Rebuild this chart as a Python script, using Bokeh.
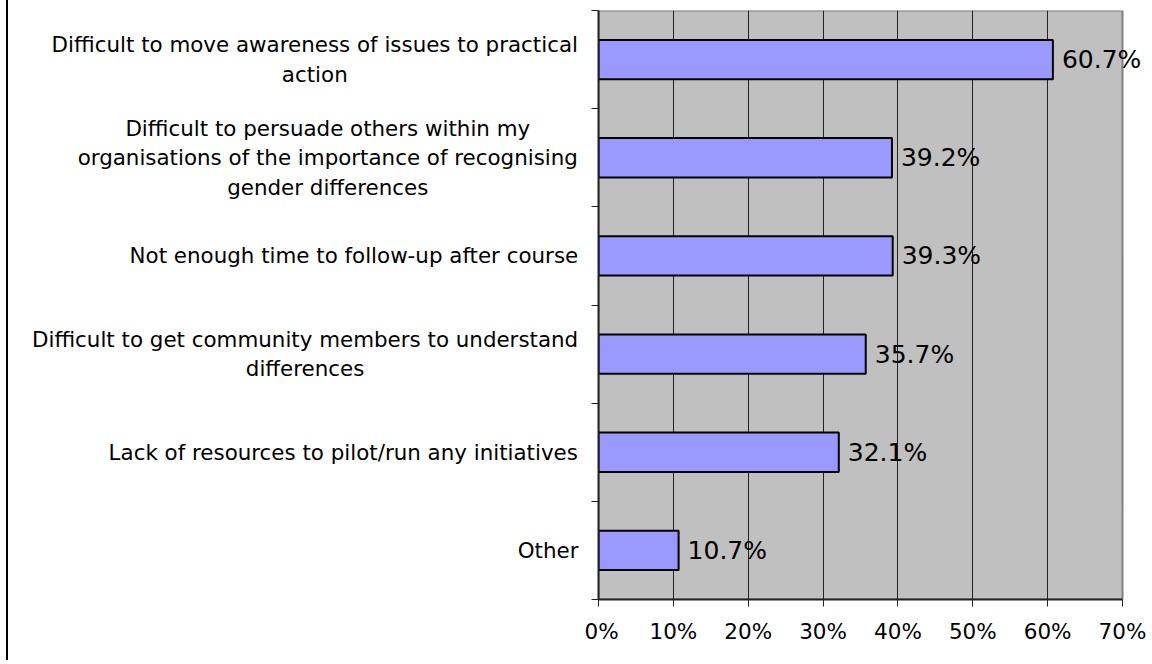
from bokeh.plotting import figure
from bokeh.layouts import row
from bokeh.models import Range1d, FixedTicker, LabelSet, ColumnDataSource, Div, Spacer
from bokeh.core.properties import value
from bokeh.embed import file_html
from bokeh.resources import INLINE

# ---- data (top to bottom) ----
categories = [
    "Difficult to move awareness of issues to practical\naction",
    "Difficult to persuade others within my\norganisations of the importance of recognising\ngender differences",
    "Not enough time to follow-up after course",
    "Difficult to get community members to understand\ndifferences",
    "Lack of resources to pilot/run any initiatives",
    "Other",
]
values = [60.7, 39.2, 39.3, 35.7, 32.1, 10.7]
x_ticks = [0, 10, 20, 30, 40, 50, 60, 70]
x_tick_labels = ["0%", "10%", "20%", "30%", "40%", "50%", "60%", "70%"]

FONT = "DejaVu Sans"
CAT_PX = 21.4
LINE_H = 29.5
H = 660
TOP, BOTTOM = 10, 61         # frame margins of the main plot
BORDER_X = 6                 # outer chart border position
LEFT_W = 584 - BORDER_X - 2  # width of the label panel
GAP = 6                      # gap between label block and the panel edge
MAIN_W = 566
AX_PAD = 14                  # room for the left axis ticks
PLOT_PX = 524                # pixel width of 0..70 %
XMAX = 70

# approximate DejaVu Sans advance widths (em) for centring multi-line labels
W = {' ': .318, 'a': .613, 'b': .635, 'c': .550, 'd': .635, 'e': .615, 'f': .352,
     'g': .635, 'h': .634, 'i': .278, 'j': .278, 'k': .579, 'l': .278, 'm': .974,
     'n': .634, 'o': .612, 'p': .635, 'q': .635, 'r': .411, 's': .521, 't': .392,
     'u': .634, 'v': .592, 'w': .818, 'x': .592, 'y': .592, 'z': .525, 'D': .770,
     'L': .557, 'N': .748, 'O': .787, '-': .361, '/': .337}


def text_w(s):
    return sum(W.get(ch, .6) for ch in s) * CAT_PX


n = len(categories)
ys = [n - i - 0.5 for i in range(n)]
y_range = Range1d(0, n)

# ---------------- main plot ----------------
src = ColumnDataSource(dict(y=ys, value=values,
                            label=[f"{v:.1f}%" for v in values]))
frame_px = MAIN_W - AX_PAD
x_end = frame_px * XMAX / PLOT_PX

p = figure(width=MAIN_W, height=H, x_range=Range1d(0, x_end), y_range=y_range,
           output_backend="svg", toolbar_location=None,
           min_border_left=AX_PAD, min_border_right=0, min_border_top=TOP,
           min_border_bottom=BOTTOM)
p.background_fill_color = "white"
p.border_fill_color = "white"
p.outline_line_color = None

# plot area (0..70 %)
p.quad(left=[0], right=[XMAX], bottom=[0], top=[n], fill_color="#C0C0C0",
       line_color="#808080", line_width=2, level="image")

p.ygrid.visible = False
p.xgrid.ticker = FixedTicker(ticks=x_ticks[1:-1])
p.xgrid.grid_line_color = "#222222"
p.xgrid.grid_line_width = 1

p.hbar(y="y", right="value", left=0, height=0.4, source=src,
       fill_color="#9999FF", line_color="black", line_width=2)

xa = p.xaxis[0]
xa.bounds = (0, XMAX)
xa.ticker = FixedTicker(ticks=x_ticks, minor_ticks=[])
xa.major_label_overrides = {t: l for t, l in zip(x_ticks, x_tick_labels)}
xa.major_tick_out = 7
xa.major_tick_in = 0
xa.minor_tick_line_color = None
xa.axis_line_color = "#222222"
xa.axis_line_width = 2
xa.major_tick_line_color = "#222222"
xa.major_label_text_font = FONT
xa.major_label_text_font_size = "21.5px"
xa.major_label_text_color = "black"
xa.major_label_standoff = 12

ya = p.yaxis[0]
ya.ticker = FixedTicker(ticks=list(range(n + 1)), minor_ticks=[])
ya.major_tick_out = 7
ya.major_tick_in = 0
ya.minor_tick_line_color = None
ya.major_label_text_color = None
ya.major_label_text_font_size = "0px"
ya.major_label_standoff = 0
ya.axis_line_color = "#222222"
ya.axis_line_width = 2
ya.major_tick_line_color = "#222222"

p.add_layout(LabelSet(x="value", y="y", text="label", source=src, x_offset=9,
                      text_baseline="middle", text_align="left",
                      text_font=value(FONT), text_font_size=value("25px"),
                      text_color="black"))

# ---------------- category label panel ----------------
lx, ly, lt, lo = [], [], [], []
right_edge = LEFT_W - GAP
for cat, y in zip(categories, ys):
    lines = cat.split("\n")
    wmax = max(text_w(l) for l in lines)
    for j, line in enumerate(lines):
        lx.append(right_edge - wmax / 2)
        ly.append(y)
        lt.append(line)
        lo.append((j - (len(lines) - 1) / 2) * LINE_H)
lsrc = ColumnDataSource(dict(x=lx, y=ly, text=lt, yo=lo))

q = figure(width=LEFT_W, height=H, x_range=Range1d(0, LEFT_W), y_range=y_range,
           output_backend="svg", toolbar_location=None,
           min_border_left=0, min_border_right=0, min_border_top=TOP,
           min_border_bottom=BOTTOM, x_axis_location=None, y_axis_location=None)
q.grid.visible = False
q.outline_line_color = None
q.background_fill_color = "white"
q.border_fill_color = "white"
q.text(x="x", y="y", text="text", y_offset="yo", source=lsrc,
       text_align="center", text_baseline="middle",
       text_font=value(FONT), text_font_size=value(f"{CAT_PX}px"),
       text_color="black")

# outer chart border (left edge only is visible in the reference)
border = Div(text="", width=2, height=H, margin=0,
             styles={"background-color": "black", "width": "2px",
                     "height": f"{H}px"})

layout = row(Spacer(width=BORDER_X, height=H, margin=0), border, q, p, spacing=0)
open("out.html", "w").write(file_html(layout, INLINE))
